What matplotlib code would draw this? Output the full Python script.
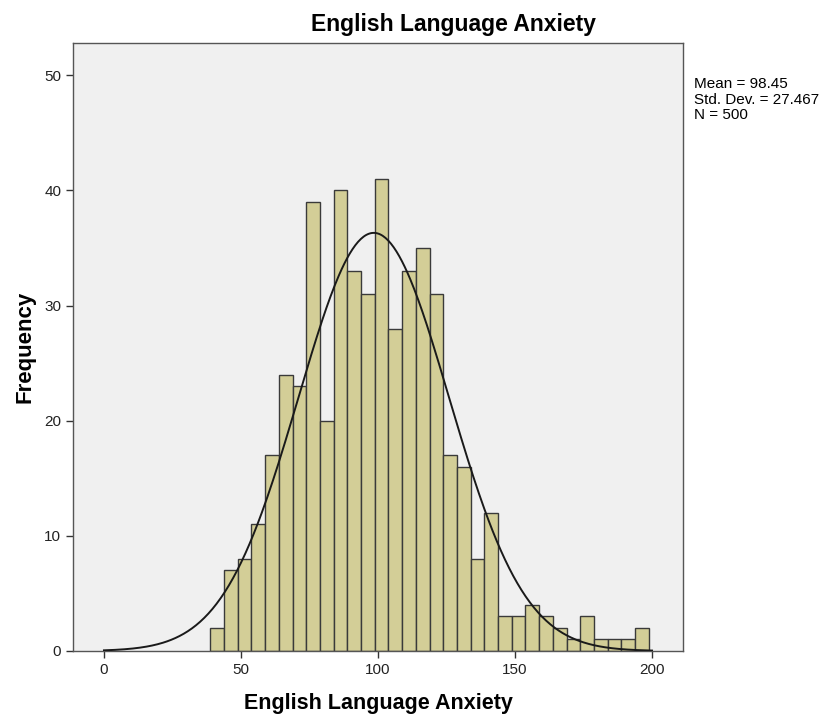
import matplotlib.pyplot as plt
import numpy as np

plt.rcParams['font.family'] = ['Liberation Sans', 'DejaVu Sans']

# histogram data (bins of width 5)
bin_start = 38.8
bin_width = 5.0
counts = [2, 7, 8, 11, 17, 24, 23, 39, 20, 40, 33, 31, 41, 28, 33, 35,
          31, 17, 16, 8, 12, 3, 3, 4, 3, 2, 1, 3, 1, 1, 1, 2]

mean = 98.45
sd = 27.467
n = 500

x_ticks = [0, 50, 100, 150, 200]
y_ticks = [0, 10, 20, 30, 40, 50]

fig = plt.figure(figsize=(8.28, 7.18), dpi=100)
ax = fig.add_axes([73/828, 67/718, 610/828, 608/718])
ax.set_facecolor('#f0f0f0')

edges = bin_start + bin_width * np.arange(len(counts))
ax.bar(edges, counts, width=bin_width, align='edge', color='#d3ce97',
       edgecolor='#3a3a3a', linewidth=1.0, zorder=2)

# normal curve scaled to counts
xs = np.linspace(0, 200, 400)
ys = n * bin_width / (sd * np.sqrt(2 * np.pi)) * np.exp(-0.5 * ((xs - mean) / sd) ** 2)
ax.plot(xs, ys, color='#1a1a1a', linewidth=1.4, zorder=3)

ax.set_xlim(-11.3, 211.3)
ax.set_ylim(0, 52.8)
ax.set_xticks(x_ticks)
ax.set_yticks(y_ticks)
ax.tick_params(direction='out', length=5, width=1, colors='#333333',
               labelsize=11, labelcolor='#222222')
for s in ax.spines.values():
    s.set_color('#555555')
    s.set_linewidth(1)

ax.set_xlabel('English Language Anxiety', fontsize=15.5, fontweight='bold', labelpad=12)
ax.set_ylabel('Frequency', fontsize=16, fontweight='bold', labelpad=6)
fig.text(454/828, 1 - 25/718, 'English Language Anxiety', fontsize=16.5,
         fontweight='bold', ha='center', va='center')

fig.text(694/828, 1 - 77/718,
         f'Mean = {mean:.2f}\nStd. Dev. = {sd:.3f}\nN = {n}',
         fontsize=11, va='top', ha='left', linespacing=1.15)

fig.savefig('out.png', dpi=100)
